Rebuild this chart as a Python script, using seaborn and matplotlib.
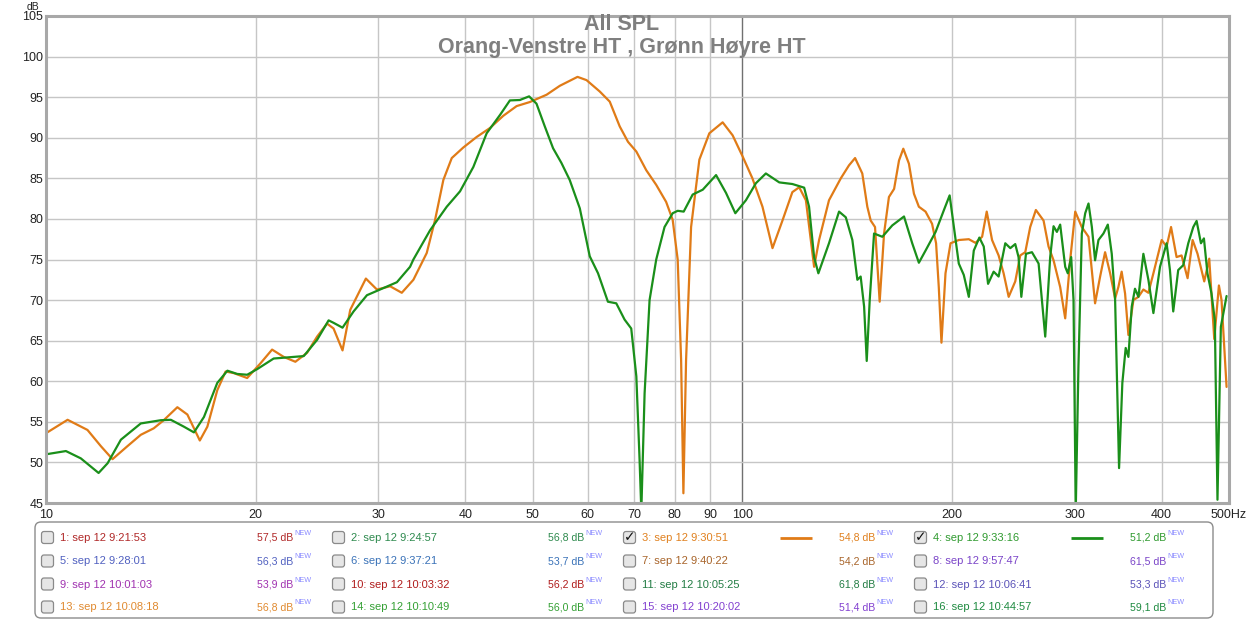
import numpy as np
import pandas as pd
import seaborn as sns
import matplotlib
matplotlib.use("Agg")
import matplotlib.pyplot as plt
from matplotlib.patches import FancyBboxPatch
from matplotlib.ticker import FixedLocator, NullLocator, FixedFormatter

# ---------------- data ----------------
orange_freq = [10.0, 10.74, 11.47, 11.99, 12.46, 13.09, 13.68, 14.28, 14.76, 15.44,
               15.96, 16.63, 17.05, 17.62, 18.11, 18.61, 19.45, 20.32, 21.12, 21.95,
               22.81, 23.71, 24.51, 25.33, 25.88, 26.66, 27.35, 28.80, 29.87, 31.21,
               32.43, 33.70, 35.22, 36.21, 37.21, 38.26, 39.75, 41.55, 43.41, 45.36,
               47.41, 49.53, 52.35, 54.69, 57.99, 59.74, 62.41, 64.51, 66.67, 68.52,
               70.44, 72.79, 75.22, 77.73, 79.43, 80.76, 81.68, 82.30, 83.03, 84.42,
               86.76, 89.67, 93.71, 96.85, 100.1, 103.4, 106.9, 110.5, 114.2, 118.0,
               120.7, 123.4, 125.4, 126.8, 128.9, 133.2, 138.5, 142.3, 145.2, 148.7,
               151.2, 152.9, 155.1, 157.5, 159.8, 162.4, 165.2, 167.9, 170.3, 173.5,
               176.4, 179.3, 183.3, 187.3, 189.8, 191.5, 193.2, 195.8, 199.1, 204.6,
               211.5, 216.2, 221.0, 224.4, 228.4, 233.4, 237.3, 241.3, 246.6, 250.7,
               254.9, 259.1, 264.0, 270.8, 275.3, 279.9, 286.1, 290.9, 295.7, 300.7,
               307.3, 314.2, 321.1, 326.5, 331.9, 337.5, 343.1, 346.8, 350.6, 354.6,
               358.5, 364.5, 370.6, 376.7, 383.0, 389.4, 400.2, 406.8, 412.8, 420.4,
               427.4, 436.0, 443.3, 450.6, 460.7, 468.4, 476.2, 483.6, 487.8, 496.0]
orange_db = [53.6, 55.25, 54.0, 52.0, 50.4, 52.0, 53.4, 54.2, 55.2, 56.8,
             55.9, 52.7, 54.4, 58.9, 61.2, 61.0, 60.4, 62.2, 63.9, 63.0,
             62.4, 63.5, 65.5, 67.1, 66.5, 63.8, 68.8, 72.65, 71.3, 71.7,
             70.9, 72.5, 75.8, 79.9, 84.8, 87.5, 88.8, 90.1, 91.2, 92.7,
             93.9, 94.4, 95.3, 96.4, 97.5, 97.1, 95.7, 94.45, 91.4, 89.5,
             88.3, 86.0, 84.2, 82.1, 79.9, 75.0, 62.6, 46.2, 62.6, 79.0,
             87.3, 90.55, 91.9, 90.3, 87.7, 85.0, 81.5, 76.4, 79.8, 83.3,
             83.9, 82.3, 77.4, 74.1, 77.4, 82.3, 85.0, 86.6, 87.5, 85.6,
             81.5, 79.8, 79.0, 69.8, 78.2, 82.7, 83.7, 87.2, 88.65, 86.8,
             83.1, 81.5, 80.9, 79.4, 77.0, 71.6, 64.75, 73.3, 77.0, 77.4,
             77.5, 77.05, 77.8, 80.9, 77.4, 75.5, 73.3, 70.4, 72.3, 75.5,
             75.9, 79.0, 81.1, 79.8, 76.6, 74.9, 71.6, 67.75, 74.9, 80.9,
             79.0, 77.8, 69.6, 72.9, 75.9, 73.3, 70.2, 71.6, 73.5, 70.8,
             65.7, 70.0, 70.4, 71.3, 70.9, 73.3, 77.4, 76.6, 79.0, 75.3,
             75.5, 72.7, 77.4, 75.7, 72.3, 75.1, 65.2, 71.8, 70.0, 59.3]

green_freq = [10.0, 10.68, 11.22, 11.90, 12.26, 12.81, 13.68, 14.62, 15.11, 15.78,
              16.31, 16.86, 17.62, 18.22, 18.82, 19.45, 20.11, 21.23, 22.68, 23.45,
              24.51, 25.46, 25.88, 26.66, 27.65, 28.90, 30.19, 31.91, 33.33, 33.70,
              35.61, 37.63, 39.32, 41.09, 42.94, 44.87, 46.37, 47.92, 49.41, 50.63,
              52.04, 53.49, 54.98, 56.51, 58.43, 60.38, 62.06, 64.12, 65.92, 67.75,
              69.26, 70.44, 71.20, 71.61, 72.39, 73.59, 75.23, 77.32, 79.43, 80.76,
              82.38, 84.86, 87.74, 91.69, 94.76, 97.72, 101.2, 104.6, 108.1, 113.0,
              118.0, 122.7, 124.7, 126.8, 128.6, 133.2, 137.7, 140.8, 143.9, 146.3,
              147.9, 149.6, 150.9, 152.4, 154.6, 158.9, 164.2, 170.7, 175.4, 179.3,
              183.3, 189.5, 194.8, 198.5, 201.3, 204.6, 208.0, 211.5, 215.0, 219.0,
              222.2, 225.4, 229.6, 233.4, 238.6, 242.6, 246.6, 249.3, 251.6, 255.5,
              260.6, 266.4, 272.3, 276.8, 279.9, 283.0, 286.1, 290.9, 293.4, 296.7,
              299.0, 301.2, 303.9, 307.3, 310.8, 314.2, 317.7, 321.1, 324.7, 330.1,
              334.9, 339.3, 343.1, 347.6, 351.4, 355.3, 358.5, 362.5, 366.4, 370.6,
              376.7, 383.0, 389.4, 398.0, 406.8, 411.3, 415.8, 422.7, 429.8, 437.0,
              444.3, 449.2, 455.7, 460.2, 465.6, 471.9, 477.1, 481.3, 486.7, 496.0]
green_db = [51.0, 51.4, 50.5, 48.7, 49.9, 52.8, 54.8, 55.2, 55.25, 54.4,
            53.7, 55.6, 59.8, 61.3, 60.9, 60.8, 61.5, 62.8, 63.0, 63.1,
            65.1, 67.5, 67.2, 66.6, 68.6, 70.6, 71.3, 72.2, 74.1, 75.0,
            78.6, 81.5, 83.4, 86.4, 90.55, 92.8, 94.6, 94.65, 95.1, 94.2,
            91.4, 88.7, 86.9, 84.8, 81.3, 75.4, 73.3, 69.8, 69.6, 67.6,
            66.5, 60.6, 50.3, 44.0, 58.5, 70.0, 75.0, 79.0, 80.7, 81.0,
            80.9, 83.0, 83.6, 85.4, 83.2, 80.7, 82.3, 84.4, 85.6, 84.5,
            84.3, 83.85, 81.5, 75.3, 73.3, 77.0, 80.9, 80.2, 77.4, 72.5,
            72.9, 69.2, 62.5, 70.0, 78.2, 77.8, 79.2, 80.3, 77.0, 74.6,
            76.1, 78.4, 81.1, 82.9, 79.0, 74.5, 73.1, 70.4, 76.1, 77.7,
            76.6, 72.0, 73.5, 72.9, 77.0, 76.4, 76.9, 75.3, 70.4, 75.7,
            75.9, 74.5, 65.5, 75.3, 79.1, 78.4, 79.3, 74.1, 73.3, 75.3,
            70.0, 44.0, 61.8, 78.2, 80.7, 81.9, 79.0, 74.9, 77.4, 78.2,
            79.3, 75.7, 70.0, 49.3, 59.8, 64.1, 63.0, 69.2, 71.4, 70.4,
            75.7, 72.5, 68.4, 74.1, 77.0, 73.7, 68.6, 73.7, 74.3, 77.0,
            79.0, 79.75, 77.0, 77.6, 73.3, 70.8, 67.5, 45.4, 66.7, 70.5]

x_ticks = [10, 20, 30, 40, 50, 60, 70, 80, 90, 100, 200, 300, 400, 500]
x_tick_labels = ["10", "20", "30", "40", "50", "60", "70", "80", "90", "100",
                 "200", "300", "400", "500Hz"]
y_ticks = [45, 50, 55, 60, 65, 70, 75, 80, 85, 90, 95, 100, 105]

title_lines = ["All SPL", "Orang-Venstre HT , Grønn Høyre HT"]

legend_names = ["1: sep 12 9:21:53", "2: sep 12 9:24:57", "3: sep 12 9:30:51", "4: sep 12 9:33:16",
                "5: sep 12 9:28:01", "6: sep 12 9:37:21", "7: sep 12 9:40:22", "8: sep 12 9:57:47",
                "9: sep 12 10:01:03", "10: sep 12 10:03:32", "11: sep 12 10:05:25", "12: sep 12 10:06:41",
                "13: sep 12 10:08:18", "14: sep 12 10:10:49", "15: sep 12 10:20:02", "16: sep 12 10:44:57"]
legend_levels = ["57,5 dB", "56,8 dB", "54,8 dB", "51,2 dB",
                 "56,3 dB", "53,7 dB", "54,2 dB", "61,5 dB",
                 "53,9 dB", "56,2 dB", "61,8 dB", "53,3 dB",
                 "56,8 dB", "56,0 dB", "51,4 dB", "59,1 dB"]
legend_colors = ["#b02828", "#2e8a4e", "#e0801e", "#2f9a2f",
                 "#5060c0", "#3a72b8", "#a8642a", "#7a44c8",
                 "#a032b0", "#b01c1c", "#237c44", "#5a52b8",
                 "#e08a30", "#34a034", "#8240d0", "#1e8a40"]
legend_checked = [False, False, True, True] + [False] * 12

ORANGE = "#e07b17"
GREEN = "#1a8f1a"

# ---------------- figure ----------------
sns.set_theme(style="white")
plt.rcParams["font.family"] = ["Liberation Sans", "DejaVu Sans"]

W, H = 1249, 621
fig = plt.figure(figsize=(W / 100, H / 100), dpi=100)
fig.patch.set_facecolor("white")

L, R, T, B = 46, 1229, 16, 503
ax = fig.add_axes([L / W, 1 - B / H, (R - L) / W, (B - T) / H])

df = pd.concat([
    pd.DataFrame({"freq": orange_freq, "spl": orange_db, "series": "3"}),
    pd.DataFrame({"freq": green_freq, "spl": green_db, "series": "4"}),
], ignore_index=True)

sns.lineplot(data=df, x="freq", y="spl", hue="series", hue_order=["3", "4"],
             palette={"3": ORANGE, "4": GREEN}, estimator=None, sort=False,
             legend=False, linewidth=1.6, ax=ax)
for ln in ax.get_lines():
    ln.set_solid_joinstyle("round")
    ln.set_solid_capstyle("round")

ax.set_xscale("log")
ax.set_xlim(10, 500)
ax.set_ylim(45, 105)
ax.xaxis.set_major_locator(FixedLocator(x_ticks))
ax.xaxis.set_major_formatter(FixedFormatter(x_tick_labels))
ax.xaxis.set_minor_locator(NullLocator())
ax.yaxis.set_major_locator(FixedLocator(y_ticks))
ax.set_xlabel("")
ax.set_ylabel("")
ax.grid(True, which="major", color="#c6c6c6", linewidth=1.0)
ax.set_axisbelow(True)
for i, gl in enumerate(ax.get_xgridlines()):
    if x_tick_labels[i] == "100":
        gl.set_color("#707070")
ax.tick_params(axis="both", length=0, labelsize=9, colors="#222222")
ax.tick_params(axis="x", pad=4)
ax.tick_params(axis="y", pad=2)
for sp in ax.spines.values():
    sp.set_visible(True)
    sp.set_color("#a8a8a8")
    sp.set_linewidth(2.2)

# ---------------- overlay (titles / legend panel) ----------------
lax = fig.add_axes([0, 0, 1, 1])
lax.set_xlim(0, W)
lax.set_ylim(H, 0)
lax.axis("off")

lax.text(33, 11.5, "dB", fontsize=7.5, ha="center", va="bottom", color="#222222")
lax.text(622, 25, title_lines[0], fontsize=15.5, fontweight="bold",
         color="#7f7f7f", ha="center", va="center")
lax.text(622, 48, title_lines[1], fontsize=15.5, fontweight="bold",
         color="#7f7f7f", ha="center", va="center")

panel = FancyBboxPatch((35, 522), 1178, 96,
                       boxstyle="round,pad=0,rounding_size=6",
                       facecolor="white", edgecolor="#8c8c8c", linewidth=1.0)
lax.add_patch(panel)

row_y = [537.5, 561, 584, 607]
col_x = [47.5, 338.5, 629.5, 920.5]
for idx, name in enumerate(legend_names):
    r, c = divmod(idx, 4)
    cx, cy = col_x[c], row_y[r]
    box = FancyBboxPatch((cx - 6, cy - 6), 12, 12,
                         boxstyle="round,pad=0,rounding_size=2.5",
                         facecolor="#e6e6e6", edgecolor="#8a8a8a", linewidth=0.9)
    lax.add_patch(box)
    if legend_checked[idx]:
        lax.text(cx + 0.5, cy, "\u2713", fontsize=10, fontweight="bold",
                 ha="center", va="center", color="#111111",
                 family=["DejaVu Sans"])
        line_color = ORANGE if idx == 2 else GREEN
        lax.plot([cx + 151, cx + 183], [cy, cy], color=line_color, lw=2.0,
                 solid_capstyle="butt")
    col = legend_colors[idx]
    lax.text(cx + 13, cy + 0.5, name, fontsize=8, color=col, ha="left", va="center")
    lax.text(cx + 246, cy + 0.5, legend_levels[idx], fontsize=7.6, color=col,
             ha="right", va="center")
    lax.text(cx + 247, cy - 4, "NEW", fontsize=5.2, color="#8a8aff",
             ha="left", va="center")

fig.savefig("out.png", dpi=100, facecolor="white")
